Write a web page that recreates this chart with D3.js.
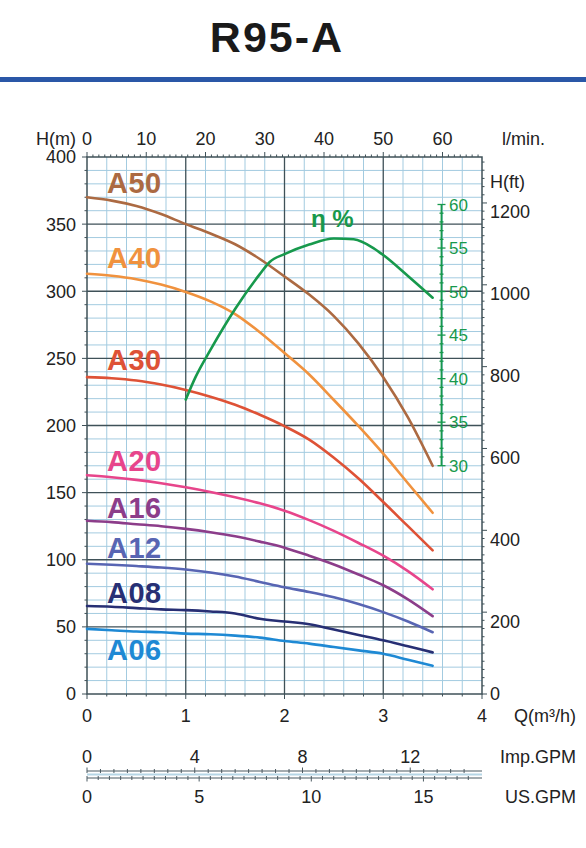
<!DOCTYPE html>
<html><head><meta charset="utf-8">
<script src="https://cdn.jsdelivr.net/npm/d3@7"></script>
<style>
html,body{margin:0;padding:0;background:#fff;}
text{font-family:"Liberation Sans",Arial,sans-serif;}
</style></head>
<body>
<svg id="chart" width="586" height="848"></svg>
<script>
// ---- data (Q in m3/h, H in m, efficiency in %) ----
const flowQ = [0, 0.25, 0.5, 0.75, 1.0, 1.25, 1.5, 1.75, 2.0, 2.25, 2.5, 2.75, 3.0, 3.25, 3.5];
const headA50 = [370, 367.5, 363.5, 357.5, 350, 343, 335, 324, 311, 297.5, 281.5, 261, 236, 206, 170];
const headA40 = [313, 311.5, 309, 305, 299.5, 292.5, 283, 269.5, 254, 238, 219, 199.5, 179, 157, 135];
const headA30 = [236, 235.2, 233.5, 230.5, 226.5, 221.5, 215.5, 208, 199.5, 189.5, 176, 160.5, 143, 125, 107];
const headA20 = [163, 161.5, 159.5, 157, 154, 150.5, 146.5, 142, 136.5, 129.5, 121.5, 112.5, 103, 91.5, 78];
const headA16 = [129, 128, 126.5, 125, 123, 120.5, 117.5, 113.5, 109, 103, 96.5, 89, 81, 70.5, 58];
const headA12 = [97, 96.3, 95.3, 94.2, 92.7, 90.5, 87.5, 83.5, 79.5, 76, 72, 67, 61, 54, 46];
const headA08 = [65.5, 65, 64, 63, 62.5, 61.5, 60, 56, 54, 52, 48, 44, 40, 35.5, 31];
const headA06 = [48.5, 47.5, 46.5, 46, 45, 44.5, 43.5, 42, 39.5, 37.5, 35, 32.5, 30, 25.5, 21];
const seriesNames = ["A50", "A40", "A30", "A20", "A16", "A12", "A08", "A06"];
const seriesHeads = [headA50, headA40, headA30, headA20, headA16, headA12, headA08, headA06];
const seriesColors = ["#ac6a42", "#f0923e", "#de5236", "#e7458b", "#8c3d8a", "#5865b3", "#272f74", "#1e89d4"];
const labelHeads = [373, 317, 241, 166, 131, 101, 68, 25];   // label baseline positions in H(m)

const effQ = [1.0, 1.1, 1.25, 1.5, 1.75, 1.85, 2.0, 2.25, 2.5, 2.7, 2.9, 3.0, 3.25, 3.5];
const effVal = [37.6, 40.2, 43.3, 48, 52, 53.4, 54.3, 55.4, 56.1, 56, 55, 54.2, 51.8, 49.3];

const qTicks = [0, 1, 2, 3, 4];
const hTicks = [0, 50, 100, 150, 200, 250, 300, 350, 400];
const lpmTicks = [0, 10, 20, 30, 40, 50, 60];
const ftTicks = [0, 200, 400, 600, 800, 1000, 1200];
const effTicks = [30, 35, 40, 45, 50, 55, 60];
const impTicks = [0, 4, 8, 12];
const usTicks = [0, 5, 10, 15];

// ---- scales ----
const x = d3.scaleLinear().domain([0, 4]).range([87, 482]);
const y = d3.scaleLinear().domain([0, 400]).range([694, 157]);
const xLpm = d3.scaleLinear().domain([0, 4 * 1000 / 60]).range([87, 482]);
const yFt = d3.scaleLinear().domain([0, 400 / 0.3048]).range([694, 157]);
const yEff = d3.scaleLinear().domain([30, 60]).range([465.7, 204.5]);
const xImp = d3.scaleLinear().domain([0, 4 * 1000 / 60 / 4.54609]).range([87, 482]);
const xUs = d3.scaleLinear().domain([0, 4 * 1000 / 60 / 3.78541]).range([87, 482]);

const svg = d3.select("#chart");
const txt = "#222";
const major = "#3f5158";
const minor = "#a3cbe0";

// ---- title ----
svg.append("text").attr("x", 277).attr("y", 52).attr("text-anchor", "middle")
  .attr("font-size", 43).attr("font-weight", "bold").attr("letter-spacing", 2)
  .attr("fill", "#1a1a1a").text("R95-A");
svg.append("rect").attr("x", 0).attr("y", 77).attr("width", 586).attr("height", 5).attr("fill", "#2a57a7");

// ---- grid ----
const g = svg.append("g");
const minorQ = d3.range(1, 20).filter(k => k % 5 !== 0).map(k => k * 0.2);
const minorH = d3.range(1, 40).filter(k => k % 5 !== 0).map(k => k * 10);
g.selectAll(".vmin").data(minorQ).join("line")
  .attr("x1", d => x(d)).attr("x2", d => x(d)).attr("y1", y(400)).attr("y2", y(0))
  .attr("stroke", minor).attr("stroke-width", 1);
g.selectAll(".hmin").data(minorH).join("line")
  .attr("x1", x(0)).attr("x2", x(4)).attr("y1", d => y(d)).attr("y2", d => y(d))
  .attr("stroke", minor).attr("stroke-width", 1);
g.selectAll(".vmaj").data([1, 2, 3]).join("line")
  .attr("x1", d => x(d)).attr("x2", d => x(d)).attr("y1", y(400)).attr("y2", y(0))
  .attr("stroke", major).attr("stroke-width", 1.3);
g.selectAll(".hmaj").data([50, 100, 150, 200, 250, 300, 350]).join("line")
  .attr("x1", x(0)).attr("x2", x(4)).attr("y1", d => y(d)).attr("y2", d => y(d))
  .attr("stroke", major).attr("stroke-width", 1.3);
g.append("rect").attr("x", x(0)).attr("y", y(400)).attr("width", x(4) - x(0)).attr("height", y(0) - y(400))
  .attr("fill", "none").attr("stroke", major).attr("stroke-width", 1.5);

// ---- small ticks on frame ----
g.selectAll(".tt").data(d3.range(0, 67)).join("line")
  .attr("x1", d => xLpm(d)).attr("x2", d => xLpm(d))
  .attr("y1", y(400)).attr("y2", d => y(400) - (d % 10 === 0 ? 5 : 2.5))
  .attr("stroke", major).attr("stroke-width", 1);
g.selectAll(".rt").data(d3.range(0, 1320, 20)).join("line")
  .attr("y1", d => yFt(d)).attr("y2", d => yFt(d))
  .attr("x1", x(4)).attr("x2", d => x(4) + (d % 200 === 0 ? 5 : 2.5))
  .attr("stroke", major).attr("stroke-width", 1);
g.selectAll(".lt").data(d3.range(0, 410, 10)).join("line")
  .attr("y1", d => y(d)).attr("y2", d => y(d))
  .attr("x1", x(0)).attr("x2", d => x(0) - (d % 50 === 0 ? 5 : 2.5))
  .attr("stroke", major).attr("stroke-width", 1);
g.selectAll(".bt").data(d3.range(0, 21)).join("line")
  .attr("x1", d => x(d * 0.2)).attr("x2", d => x(d * 0.2))
  .attr("y1", y(0)).attr("y2", d => y(0) + (d % 5 === 0 ? 5 : 2.5))
  .attr("stroke", major).attr("stroke-width", 1);

// ---- axis labels ----
const fs = 18;
svg.selectAll(".hl").data(hTicks).join("text")
  .attr("x", 76).attr("y", d => y(d)).attr("dy", "0.36em").attr("text-anchor", "end")
  .attr("font-size", fs).attr("fill", txt).text(d => d);
svg.append("text").attr("x", 76).attr("y", 145).attr("text-anchor", "end")
  .attr("font-size", fs).attr("fill", txt).text("H(m)");
svg.selectAll(".ll").data(lpmTicks).join("text")
  .attr("x", d => xLpm(d)).attr("y", 145).attr("text-anchor", "middle")
  .attr("font-size", fs).attr("fill", txt).text(d => d);
svg.append("text").attr("x", 545).attr("y", 145).attr("text-anchor", "end")
  .attr("font-size", fs).attr("fill", txt).text("l/min.");
svg.append("text").attr("x", 490).attr("y", 188)
  .attr("font-size", fs).attr("fill", txt).text("H(ft)");
svg.selectAll(".fl").data(ftTicks).join("text")
  .attr("x", 490).attr("y", d => yFt(d)).attr("dy", d => d === 0 ? "0.36em" : "0.86em")
  .attr("font-size", fs).attr("fill", txt).text(d => d);
svg.selectAll(".ql").data(qTicks).join("text")
  .attr("x", d => x(d)).attr("y", 722).attr("text-anchor", "middle")
  .attr("font-size", fs).attr("fill", txt).text(d => d);
svg.append("text").attr("x", 576).attr("y", 722).attr("text-anchor", "end")
  .attr("font-size", fs).attr("fill", txt).text("Q(m³/h)");

// ---- GPM scales ----
const gp = svg.append("g");
[771, 778].forEach(yy => gp.append("line").attr("x1", 87).attr("x2", 482).attr("y1", yy).attr("y2", yy)
  .attr("stroke", "#4b5a62").attr("stroke-width", 1.2));
gp.append("line").attr("x1", 87).attr("x2", 482).attr("y1", 774.5).attr("y2", 774.5)
  .attr("stroke", "#b5d6e6").attr("stroke-width", 2);
gp.selectAll(".it").data(d3.range(0, 14.5, 0.5)).join("line")
  .attr("x1", d => xImp(d)).attr("x2", d => xImp(d))
  .attr("y1", d => 771 - (d % 4 === 0 ? 3.5 : 2)).attr("y2", 773)
  .attr("stroke", "#4b5a62").attr("stroke-width", 1);
gp.selectAll(".ut").data(d3.range(0, 17.5, 0.5)).join("line")
  .attr("x1", d => xUs(d)).attr("x2", d => xUs(d))
  .attr("y1", 776).attr("y2", d => 778 + (d % 5 === 0 ? 3.5 : 2))
  .attr("stroke", "#4b5a62").attr("stroke-width", 1);
svg.selectAll(".il").data(impTicks).join("text")
  .attr("x", d => xImp(d)).attr("y", 763).attr("text-anchor", "middle")
  .attr("font-size", fs).attr("fill", txt).text(d => d);
svg.append("text").attr("x", 576).attr("y", 763).attr("text-anchor", "end")
  .attr("font-size", fs).attr("fill", txt).text("Imp.GPM");
svg.selectAll(".ul").data(usTicks).join("text")
  .attr("x", d => xUs(d)).attr("y", 803).attr("text-anchor", "middle")
  .attr("font-size", fs).attr("fill", txt).text(d => d);
svg.append("text").attr("x", 576).attr("y", 803).attr("text-anchor", "end")
  .attr("font-size", fs).attr("fill", txt).text("US.GPM");

// ---- efficiency axis ----
const green = "#17994c";
const ge = svg.append("g");
ge.append("line").attr("x1", 441.5).attr("x2", 441.5).attr("y1", yEff(30)).attr("y2", yEff(60))
  .attr("stroke", green).attr("stroke-width", 1.8);
ge.selectAll(".et").data(d3.range(30, 61, 1)).join("line")
  .attr("y1", d => yEff(d)).attr("y2", d => yEff(d))
  .attr("x1", d => 441.5 - (d % 5 === 0 ? 4 : 2)).attr("x2", d => 441.5 + (d % 5 === 0 ? 4 : 2))
  .attr("stroke", green).attr("stroke-width", 1.3);
ge.selectAll(".el").data(effTicks).join("text")
  .attr("x", 449).attr("y", d => yEff(d)).attr("dy", "0.36em")
  .attr("font-size", 17).attr("fill", green).text(d => d);

// ---- curves ----
const line = d3.line().x(d => x(d[0])).y(d => y(d[1])).curve(d3.curveMonotoneX);
seriesHeads.forEach((heads, i) => {
  svg.append("path").datum(flowQ.map((q, j) => [q, heads[j]]))
    .attr("d", line).attr("fill", "none").attr("stroke", seriesColors[i])
    .attr("stroke-width", 2.6).attr("stroke-linecap", "round");
  svg.append("text").attr("x", 107).attr("y", y(labelHeads[i]))
    .attr("font-family", "'DejaVu Sans', sans-serif")
    .attr("font-size", 29).attr("font-weight", "bold").attr("letter-spacing", 0.5)
    .attr("fill", seriesColors[i]).text(seriesNames[i]);
});
const effLine = d3.line().x(d => x(d[0])).y(d => yEff(d[1])).curve(d3.curveMonotoneX);
svg.append("path").datum(effQ.map((q, j) => [q, effVal[j]]))
  .attr("d", effLine).attr("fill", "none").attr("stroke", green)
  .attr("stroke-width", 2.6).attr("stroke-linecap", "round");
svg.append("text").attr("x", 311).attr("y", 227)
  .attr("font-size", 24).attr("font-weight", "bold").attr("fill", green).text("η %");
</script>
</body></html>
